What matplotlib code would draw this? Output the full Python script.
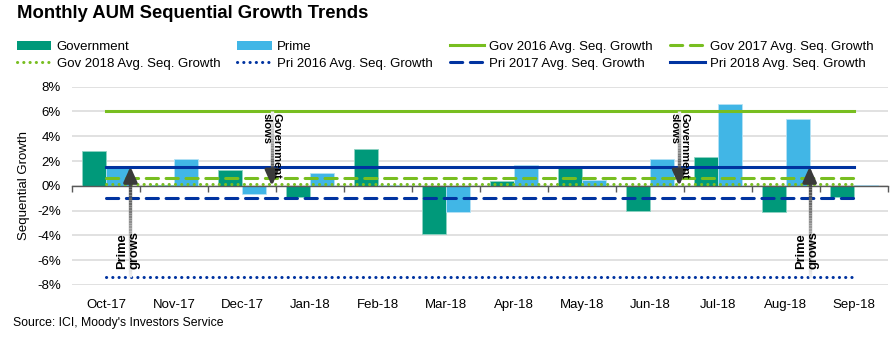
import numpy as np
import matplotlib
matplotlib.use('Agg')
import matplotlib.pyplot as plt
from matplotlib.patches import Patch
from matplotlib.collections import LineCollection

plt.rcParams['font.family'] = ['Liberation Sans', 'DejaVu Sans']

# Data (% sequential growth)
months = ['Oct-17', 'Nov-17', 'Dec-17', 'Jan-18', 'Feb-18', 'Mar-18',
          'Apr-18', 'May-18', 'Jun-18', 'Jul-18', 'Aug-18', 'Sep-18']
gov = [2.8, 0.1, 1.3, -0.9, 3.0, -3.9, 0.4, 1.4, -2.0, 2.3, -2.1, -0.9]
prime = [1.4, 2.2, -0.7, 1.0, 0.1, -2.1, 1.7, 0.5, 2.2, 6.6, 5.4, 0.1]

# yearly average sequential growth
gov_avg = {'2016': 6.0, '2017': 0.6, '2018': 0.15}
pri_avg = {'2016': -7.35, '2017': -1.0, '2018': 1.55}

# annotation anchors: (x position, tail value, tip value)
gov_slows = [(2.44, 6.0, 0.0), (8.43, 6.0, 0.0)]
prime_grows = [(0.36, -7.35, 1.55), (10.35, -7.35, 1.55)]

c_gov = '#00997A'
c_pri = '#41B6E6'
c_lime = '#78BE20'
c_navy = '#0033A0'

fig = plt.figure(figsize=(8.95, 3.38), dpi=100)
ax = fig.add_axes([0.0804, 0.157, 0.9116, 0.5865])

x = np.arange(len(months))
w = 0.35
ax.bar(x - w/2, gov, w, color=c_gov, edgecolor='#8fd3c2', linewidth=0.6, zorder=2)
ax.bar(x + w/2, prime, w, color=c_pri, edgecolor='#b5e2f5', linewidth=0.6, zorder=2)

ones = np.ones(len(months))
lw = 2.2
l_g16, = ax.plot(x, gov_avg['2016']*ones, color=c_lime, lw=lw, zorder=3)
l_g17, = ax.plot(x, gov_avg['2017']*ones, color=c_lime, lw=lw, ls=(0, (4, 2.5)),
                 dash_capstyle='round', zorder=3)
l_g18, = ax.plot(x, gov_avg['2018']*ones, color=c_lime, lw=lw, ls=(0, (0.05, 2)),
                 dash_capstyle='round', zorder=3)
l_p16, = ax.plot(x, pri_avg['2016']*ones, color=c_navy, lw=lw, ls=(0, (0.05, 2)),
                 dash_capstyle='round', zorder=3)
l_p17, = ax.plot(x, pri_avg['2017']*ones, color=c_navy, lw=lw, ls=(0, (4, 2.5)),
                 dash_capstyle='round', zorder=3)
l_p18, = ax.plot(x, pri_avg['2018']*ones, color=c_navy, lw=lw, zorder=3)

ax.set_xlim(-0.5, len(months) - 0.5)
ax.set_ylim(-8, 8)
ax.set_yticks(np.arange(-8, 9, 2))
ax.yaxis.set_major_formatter(matplotlib.ticker.FuncFormatter(lambda v, p: '%d%%' % v))
ax.tick_params(axis='y', length=0, pad=8, labelsize=9.5)
ax.grid(axis='y', color='#d9d9d9', lw=1.1, zorder=0)
ax.set_axisbelow(True)
for s in ['top', 'right', 'left']:
    ax.spines[s].set_visible(False)

# zero line with boundary ticks
ax.spines['bottom'].set_position(('data', 0))
ax.spines['bottom'].set_color('#595959')
ax.spines['bottom'].set_linewidth(1.0)
ax.spines['bottom'].set_zorder(2.5)
ax.set_xticks(np.arange(-0.5, len(months), 1))
ax.set_xticklabels([])
ax.tick_params(axis='x', direction='out', length=4, width=1.0, color='#595959')

# month labels at the bottom
sec = ax.secondary_xaxis('bottom')
sec.set_xticks(x)
sec.set_xticklabels(months)
sec.tick_params(length=0, pad=10, labelsize=9.5)
sec.spines['bottom'].set_visible(False)

ax.set_ylabel('Sequential Growth', fontsize=9.5, labelpad=5)

# arrows: grey gradient shaft + dark head
def grad_arrow(xa, y0, y1):
    n = 40
    ys = np.linspace(y0, y1 - 0.6*np.sign(y1 - y0), n + 1)
    segs = [[(xa, ys[i]), (xa, ys[i+1])] for i in range(n)]
    greys = plt.cm.Greys(np.linspace(0.15, 0.85, n))
    ax.add_collection(LineCollection(segs, colors=greys, linewidths=2.4, zorder=5,
                                     capstyle='butt'))
    ax.annotate('', xy=(xa, y1), xytext=(xa, y1 - 0.7*np.sign(y1 - y0)),
                arrowprops=dict(arrowstyle='-|>,head_length=0.6,head_width=0.27',
                                color='#3a3a3a', lw=2.4, shrinkA=0, shrinkB=0,
                                mutation_scale=15), zorder=5)

for xa, y0, y1 in gov_slows:
    grad_arrow(xa, y0, y1)
    ax.text(xa, y0 - 0.15, 'Government\nslows', rotation=270, ha='center', va='top',
            multialignment='left', fontsize=8, fontweight='bold', zorder=6,
            linespacing=1.0)
for xa, y0, y1 in prime_grows:
    grad_arrow(xa, y0, y1)
    ax.text(xa - 0.03, y0 + 0.6, 'Prime\ngrows', rotation=90, ha='center', va='bottom',
            multialignment='left', fontsize=9.3, fontweight='bold', zorder=6,
            linespacing=1.0)

# legend (column-major order for ncol=4)
h_gov = Patch(facecolor=c_gov)
h_pri = Patch(facecolor=c_pri)
handles = [h_gov, l_g18, h_pri, l_p16, l_g16, l_p17, l_g17, l_p18]
labels = ['Government', 'Gov 2018 Avg. Seq. Growth', 'Prime', 'Pri 2016 Avg. Seq. Growth',
          'Gov 2016 Avg. Seq. Growth', 'Pri 2017 Avg. Seq. Growth',
          'Gov 2017 Avg. Seq. Growth', 'Pri 2018 Avg. Seq. Growth']
fig.legend(handles, labels, ncol=4, loc='upper left', bbox_to_anchor=(0.019, 0.88),
           frameon=False, fontsize=9.5, handlelength=2.6, handletextpad=0.4,
           columnspacing=1.3, labelspacing=0.38, borderaxespad=0, borderpad=0)

fig.text(0.019, 0.96, 'Monthly AUM Sequential Growth Trends', fontsize=13.3,
         fontweight='bold', va='center', ha='left')
fig.text(0.0145, 0.045, "Source: ICI, Moody's Investors Service", fontsize=8.8,
         va='center', ha='left')

fig.savefig('out.png', dpi=100)
